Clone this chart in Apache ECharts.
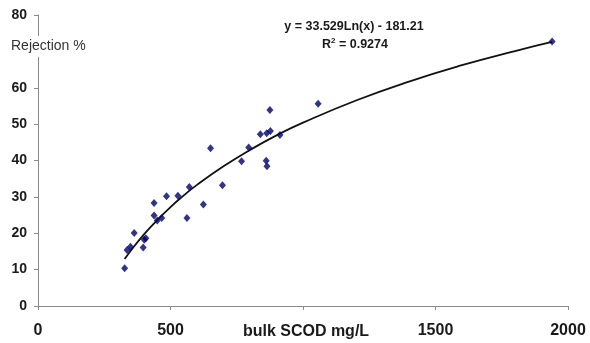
<!DOCTYPE html>
<html>
<head>
<meta charset="utf-8">
<script src="https://cdn.jsdelivr.net/npm/echarts@6/dist/echarts.min.js"></script>
<style>
html,body{margin:0;padding:0;background:#fff;}
#c{width:590px;height:343px;}
</style>
</head>
<body>
<div id="c"></div>
<script>
// Measured points: bulk SCOD (mg/L) and rejection (%)
var scod = [327, 336, 349, 363, 397, 401, 407, 438, 438, 450, 467, 485, 528, 562, 571, 624, 651, 696, 768, 795, 839, 861, 864, 863, 875, 877, 913, 1057, 1940];
var rejection = [10.4, 15.4, 16.3, 20.1, 16.1, 18.2, 18.6, 28.3, 24.9, 23.5, 24.2, 30.2, 30.3, 24.2, 32.7, 27.9, 43.4, 33.2, 39.8, 43.6, 47.2, 39.9, 38.4, 47.5, 53.9, 48.1, 47.0, 55.6, 72.7];
// Logarithmic trendline as drawn in the picture
var trendX = [327, 350, 400, 450, 500, 550, 600, 700, 800, 900, 1000, 1200, 1400, 1600, 1800, 1940];
var trendY = [12.9, 15.2, 19.7, 23.6, 27.2, 30.4, 33.3, 38.4, 42.9, 46.9, 50.4, 56.5, 61.7, 66.2, 70.1, 72.6];
var xTicks = [0, 500, 1000, 1500, 2000];
var yTicks = [0, 10, 20, 30, 40, 50, 60, 70, 80];
var xTitle = 'bulk SCOD mg/L';
var yTitle = 'Rejection %';
var eqLine = 'y = 33.529Ln(x) - 181.21';
var r2Value = '0.9274';

var pts = scod.map(function (x, i) { return [x, rejection[i]]; });
var trend = trendX.map(function (x, i) { return [x, trendY[i]]; });

var chart = echarts.init(document.getElementById('c'), null, {renderer: 'canvas'});
chart.setOption({
  animation: false,
  backgroundColor: '#fff',
  grid: {left: 38, right: 22, top: 15, bottom: 37, containLabel: false},
  xAxis: {
    type: 'value', min: xTicks[0], max: xTicks[xTicks.length - 1], interval: 500,
    axisLine: {lineStyle: {color: '#8a8a8a', width: 1}},
    axisTick: {show: true, length: 4, lineStyle: {color: '#8a8a8a'}},
    splitLine: {show: false},
    axisLabel: {
      margin: 17, color: '#1a1a1a', fontWeight: 'bold', fontSize: 16,
      fontFamily: 'Liberation Sans, Arial, sans-serif',
      formatter: function (v) { return v === 1000 ? '' : String(v); }
    }
  },
  yAxis: {
    type: 'value', min: yTicks[0], max: yTicks[yTicks.length - 1], interval: 10,
    axisLine: {show: true, lineStyle: {color: '#8a8a8a', width: 1}},
    axisTick: {show: true, length: 4, lineStyle: {color: '#8a8a8a'}},
    splitLine: {show: false},
    axisLabel: {
      margin: 11, color: '#1a1a1a', fontWeight: 'bold', fontSize: 14,
      fontFamily: 'Liberation Sans, Arial, sans-serif',
      formatter: function (v) { return v === 70 ? '' : String(v); }
    }
  },
  series: [
    {
      type: 'line', data: trend, smooth: true, symbol: 'none',
      lineStyle: {color: '#111', width: 1.8}, z: 2
    },
    {
      type: 'scatter', data: pts, symbol: 'diamond', symbolSize: [7, 8],
      itemStyle: {color: '#00006a'}, z: 3
    }
  ],
  graphic: [
    {
      type: 'rect', left: 8, top: 36, shape: {width: 84, height: 21},
      style: {fill: '#fff'}, z: 100
    },
    {
      type: 'text', left: 11, top: 39, z: 101,
      style: {text: yTitle, fill: '#333', font: '14px "Liberation Sans", Arial, sans-serif'}
    },
    {
      type: 'text', x: 306, y: 332, z: 101,
      style: {text: xTitle, fill: '#1a1a1a', align: 'center', verticalAlign: 'middle',
        font: 'bold 16px "Liberation Sans", Arial, sans-serif'}
    },
    {
      type: 'text', x: 354, y: 27, z: 101,
      style: {text: eqLine, fill: '#1a1a1a', align: 'center', verticalAlign: 'middle',
        font: 'bold 12.5px "Liberation Sans", Arial, sans-serif'}
    },
    {
      type: 'text', x: 355, y: 44, z: 101,
      style: {
        text: '{a|R}{s|2}{a| = ' + r2Value + '}',
        align: 'center', verticalAlign: 'middle',
        rich: {
          a: {fill: '#1a1a1a', fontWeight: 'bold', fontSize: 12.5, fontFamily: 'Liberation Sans', verticalAlign: 'bottom'},
          s: {fill: '#1a1a1a', fontWeight: 'bold', fontSize: 8, fontFamily: 'Liberation Sans', verticalAlign: 'top', padding: [0, 0, 6, 0]}
        }
      }
    }
  ]
});
</script>
</body>
</html>
